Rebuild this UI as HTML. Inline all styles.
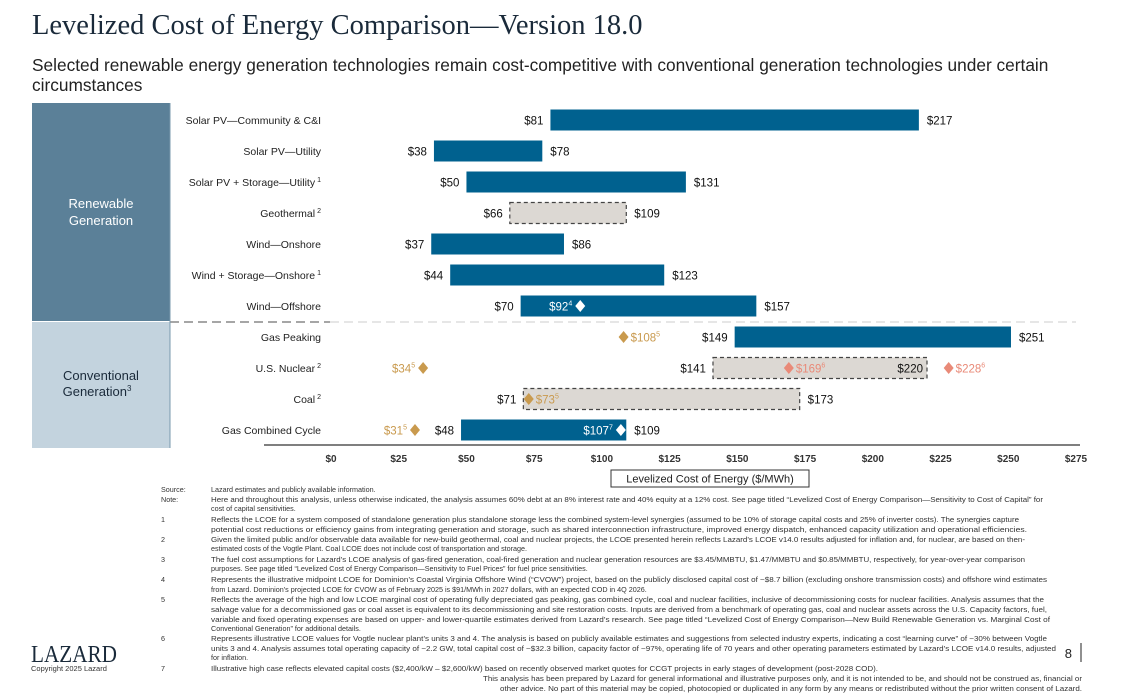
<!DOCTYPE html>
<html><head><meta charset="utf-8"><style>
html,body{margin:0;padding:0;background:#fff;}
body{width:1130px;height:700px;position:relative;overflow:hidden;font-family:"Liberation Sans",sans-serif;}
#title{position:absolute;left:32px;top:10px;font-family:"Liberation Serif",serif;font-size:28.5px;color:#1a2a3a;white-space:nowrap;}
#sub{position:absolute;left:32px;top:55px;width:1040px;font-size:17.3px;line-height:20px;color:#222;}
svg{position:absolute;left:0;top:0;}
</style></head><body>
<div id="title">Levelized Cost of Energy Comparison—Version 18.0</div>
<div id="sub">Selected renewable energy generation technologies remain cost-competitive with conventional generation technologies under certain circumstances</div>
<svg id="chart" width="1130" height="700"></svg>
<script>
const categories=["Solar PV—Community & C&I","Solar PV—Utility","Solar PV + Storage—Utility","Geothermal","Wind—Onshore","Wind + Storage—Onshore","Wind—Offshore","Gas Peaking","U.S. Nuclear","Coal","Gas Combined Cycle"];
const catSup=["","","1","2","","1","","","2","2",""];
const lows=[81,38,50,66,37,44,70,149,141,71,48];
const highs=[217,78,131,109,86,123,157,251,220,173,109];
const xTicks=[0,25,50,75,100,125,150,175,200,225,250,275];
const markerRows=[6,7,8,8,8,9,10,10];
const markerValues=[92,108,34,169,228,73,31,107];
const markerKinds=["white","gold","gold","salmon","salmon","gold","gold","white"];
const markerSups=["4","5","5","6","6","5","5","7"];
const markerSide=["left","right","left","right","right","right","left","left"];

const NS="http://www.w3.org/2000/svg";
const svg=document.getElementById('chart');
const X0=331,X1=1076,VMAX=275;
const x=v=>X0+(v/VMAX)*(X1-X0);
const rowY=i=>120+i*31;
function mk(tag,attrs,parent){const e=document.createElementNS(NS,tag);for(const k in attrs)e.setAttribute(k,attrs[k]);(parent||svg).appendChild(e);return e;}
function txt(s,attrs,parent){const e=mk('text',attrs,parent);e.textContent=s;return e;}

let g=mk('g',{});


mk('rect',{x:32,y:103,width:138,height:218,fill:'#5b8098'},g);
txt('Renewable',{x:101,y:208,'text-anchor':'middle','font-size':13,fill:'#fff'},g);
txt('Generation',{x:101,y:225,'text-anchor':'middle','font-size':13,fill:'#fff'},g);
g=mk('g',{});


mk('rect',{x:32,y:322,width:138,height:126,fill:'#c3d3de'},g);
txt('Conventional',{x:101,y:380,'text-anchor':'middle','font-size':13,fill:'#1a2a3a'},g);
let t=txt('Generation',{x:97,y:396,'text-anchor':'middle','font-size':13,fill:'#1a2a3a'},g);
let sp=mk('tspan',{'font-size':8,dy:-5},t);sp.textContent='3';
mk('line',{x1:170,y1:322,x2:330,y2:322,stroke:'#888','stroke-width':1.5,'stroke-dasharray':'9,5'});
mk('line',{x1:330,y1:322,x2:1076,y2:322,stroke:'#ddd','stroke-width':1.5,'stroke-dasharray':'9,5'});
mk('line',{x1:170,y1:103,x2:170,y2:448,stroke:'#7a98ad','stroke-width':1});

categories.forEach((c,i)=>{
  const y=rowY(i);
  const gg=mk('g',{});
  
  
  const lt=txt(c,{x:321,y:y+4,'text-anchor':'end','font-size':10.5,fill:'#222'},gg);
  if(catSup[i]){const s=mk('tspan',{'font-size':7,dy:-4,dx:2},lt);s.textContent=catSup[i];}
  const est=(i===3||i===8||i===9);
  const r=mk('rect',{x:x(lows[i]),y:y-10.5,width:x(highs[i])-x(lows[i]),height:21,fill:est?'#dcd8d3':'#00618f'},gg);
  if(est){r.setAttribute('stroke','#444');r.setAttribute('stroke-dasharray','4,3');r.setAttribute('stroke-width','1.2');}
  
  
  txt('$'+lows[i],{x:x(lows[i])-7,y:y+4.5,'text-anchor':'end','font-size':11.5,fill:'#111'},gg);
  if(i===8) txt('$'+highs[i],{x:x(highs[i])-4,y:y+4.5,'text-anchor':'end','font-size':11.5,fill:'#111'},gg);
  else txt('$'+highs[i],{x:x(highs[i])+8,y:y+4.5,'font-size':11.5,fill:'#111'},gg);
});

const colors={white:'#fff',gold:'#c99a4e',salmon:'#e98a78'};
markerValues.forEach((v,k)=>{
  const y=rowY(markerRows[k]),cx=x(v),col=colors[markerKinds[k]];
  const gg=mk('g',{});
  
  
  mk('polygon',{points:`${cx},${y-6} ${cx+5},${y} ${cx},${y+6} ${cx-5},${y}`,fill:col},gg);
  const tx=markerSide[k]==='left'?cx-8:cx+7;
  const tt=txt('$'+v,{x:tx,y:y+4.5,'text-anchor':markerSide[k]==='left'?'end':'start','font-size':11.5,fill:col},gg);
  const s=mk('tspan',{'font-size':7,dy:-5},tt);s.textContent=markerSups[k];
});

const ag=mk('g',{});


mk('line',{x1:264,y1:445,x2:1080,y2:445,stroke:'#555','stroke-width':1.5},ag);
xTicks.forEach(v=>{txt('$'+v,{x:x(v),y:462,'text-anchor':'middle','font-size':10,'font-weight':'bold',fill:'#333'},ag);});
const tb=mk('g',{});


mk('rect',{x:611,y:470,width:198,height:17,fill:'#fff',stroke:'#333','stroke-width':1},tb);
txt('Levelized Cost of Energy ($/MWh)',{x:710,y:482.5,'text-anchor':'middle','font-size':11,fill:'#222'},tb);

const notes=[
["Source:","Lazard estimates and publicly available information.",490,0],
["Note:","Here and throughout this analysis, unless otherwise indicated, the analysis assumes 60% debt at an 8% interest rate and 40% equity at a 12% cost. See page titled “Levelized Cost of Energy Comparison—Sensitivity to Cost of Capital” for",500,1043],
["","cost of capital sensitivities.",509,0],
["1","Reflects the LCOE for a system composed of standalone generation plus standalone storage less the combined system-level synergies (assumed to be 10% of storage capital costs and 25% of inverter costs). The synergies capture",520,1019],
["","potential cost reductions or efficiency gains from integrating generation and storage, such as shared interconnection infrastructure, improved energy dispatch, enhanced capacity utilization and operational efficiencies.",530,1027],
["2","Given the limited public and/or observable data available for new-build geothermal, coal and nuclear projects, the LCOE presented herein reflects Lazard’s LCOE v14.0 results adjusted for inflation and, for nuclear, are based on then-",540,1025],
["","estimated costs of the Vogtle Plant. Coal LCOE does not include cost of transportation and storage.",549,0],
["3","The fuel cost assumptions for Lazard’s LCOE analysis of gas-fired generation, coal-fired generation and nuclear generation resources are $3.45/MMBTU, $1.47/MMBTU and $0.85/MMBTU, respectively, for year-over-year comparison",560,1025],
["","purposes. See page titled “Levelized Cost of Energy Comparison—Sensitivity to Fuel Prices” for fuel price sensitivities.",569,0],
["4","Represents the illustrative midpoint LCOE for Dominion’s Coastal Virginia Offshore Wind (“CVOW”) project, based on the publicly disclosed capital cost of ~$8.7 billion (excluding onshore transmission costs) and offshore wind estimates",580,1047],
["","from Lazard. Dominion’s projected LCOE for CVOW as of February 2025 is $91/MWh in 2027 dollars, with an expected COD in 4Q 2026.",590,0],
["5","Reflects the average of the high and low LCOE marginal cost of operating fully depreciated gas peaking, gas combined cycle, coal and nuclear facilities, inclusive of decommissioning costs for nuclear facilities. Analysis assumes that the",600,1044],
["","salvage value for a decommissioned gas or coal asset is equivalent to its decommissioning and site restoration costs. Inputs are derived from a benchmark of operating gas, coal and nuclear assets across the U.S. Capacity factors, fuel,",610,1047],
["","variable and fixed operating expenses are based on upper- and lower-quartile estimates derived from Lazard’s research. See page titled “Levelized Cost of Energy Comparison—New Build Renewable Generation vs. Marginal Cost of",620,1050],
["","Conventional Generation” for additional details.",629,0],
["6","Represents illustrative LCOE values for Vogtle nuclear plant’s units 3 and 4. The analysis is based on publicly available estimates and suggestions from selected industry experts, indicating a cost “learning curve” of ~30% between Vogtle",639,1047],
["","units 3 and 4. Analysis assumes total operating capacity of ~2.2 GW, total capital cost of ~$32.3 billion, capacity factor of ~97%, operating life of 70 years and other operating parameters estimated by Lazard’s LCOE v14.0 results, adjusted",649,1056],
["","for inflation.",658,0],
["7","Illustrative high case reflects elevated capital costs ($2,400/kW – $2,600/kW) based on recently observed market quotes for CCGT projects in early stages of development (post-2028 COD).",669,878]
];
const fg=mk('g',{});


notes.forEach(n=>{
  if(n[0]) txt(n[0],{x:161,y:n[2]+2,'font-size':7.2,fill:'#333'},fg);
  const a={x:211,y:n[2]+2,'font-size':7.2,fill:'#333'};
  if(n[3]){a.textLength=n[3]-211;a.lengthAdjust='spacingAndGlyphs';}
  txt(n[1],a,fg);
});
txt('This analysis has been prepared by Lazard for general informational and illustrative purposes only, and it is not intended to be, and should not be construed as, financial or',{x:1082,y:681,'text-anchor':'end','font-size':7.2,fill:'#333',textLength:599,lengthAdjust:'spacingAndGlyphs'},fg);
txt('other advice. No part of this material may be copied, photocopied or duplicated in any form by any means or redistributed without the prior written consent of Lazard.',{x:1082,y:691,'text-anchor':'end','font-size':7.2,fill:'#333',textLength:582,lengthAdjust:'spacingAndGlyphs'},fg);

const lg=mk('g',{});


txt('LAZARD',{x:31,y:662,'font-family':'Liberation Serif,serif','font-size':24,fill:'#1a2a3a',textLength:86,lengthAdjust:'spacingAndGlyphs'},lg);
txt('Copyright 2025 Lazard',{x:31,y:671,'font-size':7.5,fill:'#333'},lg);
const pg=mk('g',{});


txt('8',{x:1072,y:658,'text-anchor':'end','font-size':13,fill:'#222'},pg);
mk('line',{x1:1081,y1:643,x2:1081,y2:662,stroke:'#222','stroke-width':1},pg);
</script>
</body></html>
